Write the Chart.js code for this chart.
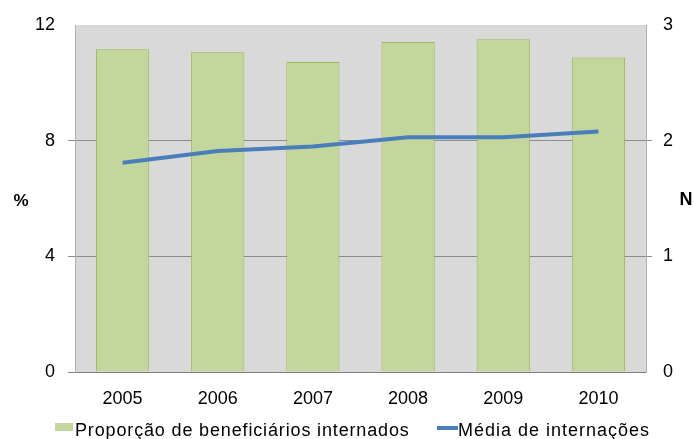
<!DOCTYPE html>
<html lang="pt">
<head>
<meta charset="utf-8">
<script src="https://cdn.jsdelivr.net/npm/chart.js@4/dist/chart.umd.min.js"></script>
<style>
  html, body { margin: 0; padding: 0; background: #ffffff; }
  #wrap { position: relative; width: 694px; height: 439px; overflow: hidden; }
  #chart { position: absolute; left: 0; top: 0; }
  .lg-item { position: absolute; top: 420px; height: 18px; line-height: 18px;
             font: 18px "Liberation Sans", Arial, sans-serif; color: #000; white-space: nowrap; }
  .lg-swatch { position: absolute; }
</style>
</head>
<body>
<div id="wrap">
  <canvas id="chart" width="694" height="439"></canvas>
  <div id="legend"></div>
</div>
<script>
// Anos e séries
const years = ['2005', '2006', '2007', '2008', '2009', '2010'];
const proporcaoInternados = [11.16, 11.06, 10.72, 11.41, 11.51, 10.88]; // %
const mediaInternacoes = [1.81, 1.91, 1.95, 2.03, 2.03, 2.08];          // N
const ticksPercent = [0, 4, 8, 12];
const ticksN = [0, 1, 2, 3];

const seriesLabels = ['Proporção de beneficiários internados', 'Média de internações'];
const barFill = '#c3d69b';
const barEdge = '#9bbb59';
const lineColor = '#4a7ebb';

// Fundo cinza da área de plotagem
const plotBackground = {
  id: 'plotBackground',
  beforeDraw(chart) {
    const { ctx, chartArea: a } = chart;
    ctx.save();
    ctx.fillStyle = '#d9d9d9';
    ctx.fillRect(a.left, a.top, a.right - a.left, a.bottom - a.top);
    ctx.restore();
  }
};

// Títulos dos eixos ("%" à esquerda, "N" à direita)
const axisTitles = {
  id: 'axisTitles',
  afterDraw(chart) {
    const ctx = chart.ctx;
    ctx.save();
    ctx.fillStyle = '#000';
    ctx.textAlign = 'center';
    ctx.textBaseline = 'middle';
    ctx.font = 'bold 17px "Liberation Sans", Arial, sans-serif';
    ctx.fillText('%', 21, 201);
    ctx.font = 'bold 18px "Liberation Sans", Arial, sans-serif';
    ctx.fillText('N', 686, 200);
    ctx.restore();
  }
};

const tickFont = { family: '"Liberation Sans", Arial, sans-serif', size: 18 };

const chart = new Chart(document.getElementById('chart'), {
  data: {
    labels: years,
    datasets: [
      {
        type: 'line',
        label: seriesLabels[1],
        data: mediaInternacoes,
        yAxisID: 'yN',
        borderColor: lineColor,
        backgroundColor: lineColor,
        borderWidth: 4,
        pointRadius: 0,
        tension: 0,
        order: 0
      },
      {
        type: 'bar',
        label: seriesLabels[0],
        data: proporcaoInternados,
        yAxisID: 'yPct',
        backgroundColor: barFill,
        borderColor: barEdge,
        borderWidth: 1,
        barPercentage: 0.56,
        categoryPercentage: 1.0,
        order: 1
      }
    ]
  },
  options: {
    responsive: false,
    animation: false,
    devicePixelRatio: 1,
    layout: { padding: { top: 25, bottom: 27, left: 0, right: 0 } },
    plugins: {
      legend: { display: false },
      tooltip: { enabled: false }
    },
    scales: {
      x: {
        grid: { display: false },
        border: { display: true, color: '#7f7f7f', width: 1 },
        ticks: { color: '#000', font: tickFont, padding: 8, maxRotation: 0 },
        afterFit(scale) { scale.height = 40; }
      },
      yPct: {
        position: 'left',
        min: 0,
        max: 12,
        afterBuildTicks(scale) { scale.ticks = ticksPercent.map(v => ({ value: v })); },
        grid: {
          color: c => c.tick.value === 12 ? 'rgba(0,0,0,0)' : (c.tick.value === 0 ? '#7f7f7f' : '#8c8c8c'),
          tickLength: 7,
          lineWidth: 1
        },
        border: { display: true, color: '#b0b0b0', width: 1 },
        ticks: { color: '#000', font: tickFont, padding: 13 },
        afterFit(scale) { scale.width = 75; }
      },
      yN: {
        position: 'right',
        min: 0,
        max: 3,
        afterBuildTicks(scale) { scale.ticks = ticksN.map(v => ({ value: v })); },
        grid: {
          drawOnChartArea: false,
          color: c => (c.tick.value === 1 || c.tick.value === 2) ? '#8c8c8c' : 'rgba(0,0,0,0)',
          tickLength: 6,
          lineWidth: 1
        },
        border: { display: true, color: '#b0b0b0', width: 1 },
        ticks: { color: '#000', font: tickFont, padding: 11 },
        afterFit(scale) { scale.width = 48; }
      }
    }
  },
  plugins: [plotBackground, axisTitles]
});

// Legenda abaixo do gráfico, montada a partir dos datasets
(function buildLegend() {
  const legend = document.getElementById('legend');
  const bar = chart.data.datasets.find(d => d.type === 'bar');
  const line = chart.data.datasets.find(d => d.type === 'line');
  const items = [
    { ds: bar, swatch: { left: 55, top: 423, width: 18, height: 8, bg: bar.backgroundColor },
      textLeft: 75, spacing: 0.85 },
    { ds: line, swatch: { left: 437, top: 426, width: 21, height: 4, bg: line.borderColor },
      textLeft: 458, spacing: 1.0 }
  ];
  items.forEach(it => {
    const sw = document.createElement('div');
    sw.className = 'lg-swatch';
    Object.assign(sw.style, {
      left: it.swatch.left + 'px', top: it.swatch.top + 'px',
      width: it.swatch.width + 'px', height: it.swatch.height + 'px',
      background: it.swatch.bg
    });
    legend.appendChild(sw);
    const tx = document.createElement('div');
    tx.className = 'lg-item';
    tx.style.left = it.textLeft + 'px';
    tx.style.letterSpacing = it.spacing + 'px';
    tx.textContent = it.ds.label;
    legend.appendChild(tx);
  });
})();
</script>
</body>
</html>
